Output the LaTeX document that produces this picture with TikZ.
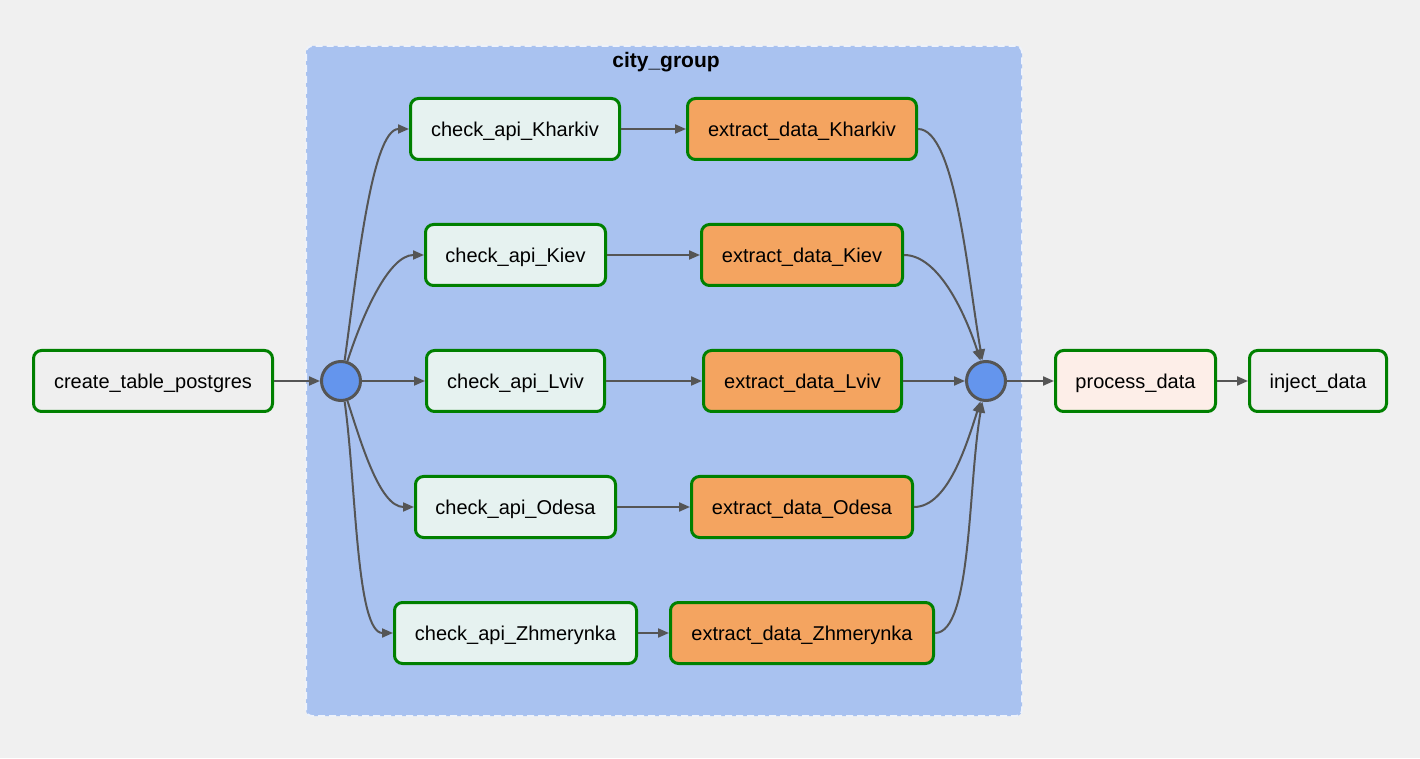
\documentclass[tikz,border=0pt]{standalone}
\usepackage{fontspec}
\setmainfont{Liberation Sans}
\usetikzlibrary{arrows.meta}
\definecolor{bgc}{HTML}{F0F0F0}
\definecolor{grp}{HTML}{A9C2F0}
\definecolor{grpb}{HTML}{EEF2FA}
\definecolor{chk}{HTML}{E6F2F0}
\definecolor{ext}{HTML}{F4A460}
\definecolor{proc}{HTML}{FDEEE8}
\definecolor{inj}{HTML}{EFEFEF}
\definecolor{grn}{HTML}{008000}
\definecolor{edg}{HTML}{555555}
\definecolor{joinc}{HTML}{6495ED}
\begin{document}
\begin{tikzpicture}[x=1pt,y=1pt,
 task/.style={draw=grn, line width=3pt, rounded corners=8pt, minimum height=61pt, inner sep=0pt, text depth=0pt, font=\fontsize{20}{24}\selectfont, text=black},
 joinnode/.style={circle, draw=edg, fill=joinc, line width=3pt, minimum size=39pt, inner sep=0pt},
 edge/.style={draw=edg, line width=2pt, -{Triangle[length=11pt,width=9pt]}},
]
\fill[bgc] (0,0) rectangle (1420,758);
\useasboundingbox (0,0) rectangle (1420,758);
\draw[fill=grp, draw=grpb, line width=2pt, dash pattern=on 7pt off 4pt, rounded corners=6pt] (306,42) rectangle (1022,712);
\node[font=\bfseries\fontsize{21}{25}\selectfont] (title) at (666,696) {city\_group};

\node[task, fill=inj, minimum width=239pt] (ct) at (153,377) {create\_table\_postgres};
\node[joinnode] (cl) at (341,377) {};
\node[task, fill=chk, minimum width=209pt] (k1) at (515,629) {check\_api\_Kharkiv};
\node[task, fill=ext, minimum width=229pt] (e1) at (802,629) {extract\_data\_Kharkiv};
\node[task, fill=chk, minimum width=180pt] (k2) at (515.5,503) {check\_api\_Kiev};
\node[task, fill=ext, minimum width=201pt] (e2) at (802,503) {extract\_data\_Kiev};
\node[task, fill=chk, minimum width=178pt] (k3) at (515.5,377) {check\_api\_Lviv};
\node[task, fill=ext, minimum width=198pt] (e3) at (802.5,377) {extract\_data\_Lviv};
\node[task, fill=chk, minimum width=200pt] (k4) at (515.5,251) {check\_api\_Odesa};
\node[task, fill=ext, minimum width=221pt] (e4) at (802,251) {extract\_data\_Odesa};
\node[task, fill=chk, minimum width=242pt] (k5) at (515.5,125) {check\_api\_Zhmerynka};
\node[task, fill=ext, minimum width=263pt] (e5) at (802,125) {extract\_data\_Zhmerynka};
\node[joinnode] (cr) at (986,377) {};
\node[task, fill=proc, minimum width=160pt] (pd) at (1135.5,377) {process\_data};
\node[task, fill=inj, minimum width=137pt] (ij) at (1318,377) {inject\_data};

\draw[edge] (ct) -- (cl);
\draw[edge] (cl.80) to[out=82, in=180, out looseness=0.9, in looseness=0.4] (k1.west);
\draw[edge] (cl.72) to[out=72, in=180, out looseness=0.9, in looseness=0.7] (k2.west);
\draw[edge] (cl) -- (k3);
\draw[edge] (cl.-72) to[out=-72, in=180, out looseness=0.9, in looseness=0.7] (k4.west);
\draw[edge] (cl.-80) to[out=-82, in=180, out looseness=0.9, in looseness=0.4] (k5.west);
\draw[edge] (k1) -- (e1);
\draw[edge] (k2) -- (e2);
\draw[edge] (k3) -- (e3);
\draw[edge] (k4) -- (e4);
\draw[edge] (k5) -- (e5);
\draw[edge] (e1.east) to[out=0, in=100, out looseness=0.4, in looseness=0.9] (cr.100);
\draw[edge] (e2.east) to[out=0, in=108, out looseness=0.7, in looseness=0.9] (cr.105);
\draw[edge] (e3) -- (cr);
\draw[edge] (e4.east) to[out=0, in=-108, out looseness=0.7, in looseness=0.9] (cr.-105);
\draw[edge] (e5.east) to[out=0, in=-100, out looseness=0.4, in looseness=0.9] (cr.-100);
\draw[edge] (cr) -- (pd);
\draw[edge] (pd) -- (ij);
\end{tikzpicture}
\end{document}
